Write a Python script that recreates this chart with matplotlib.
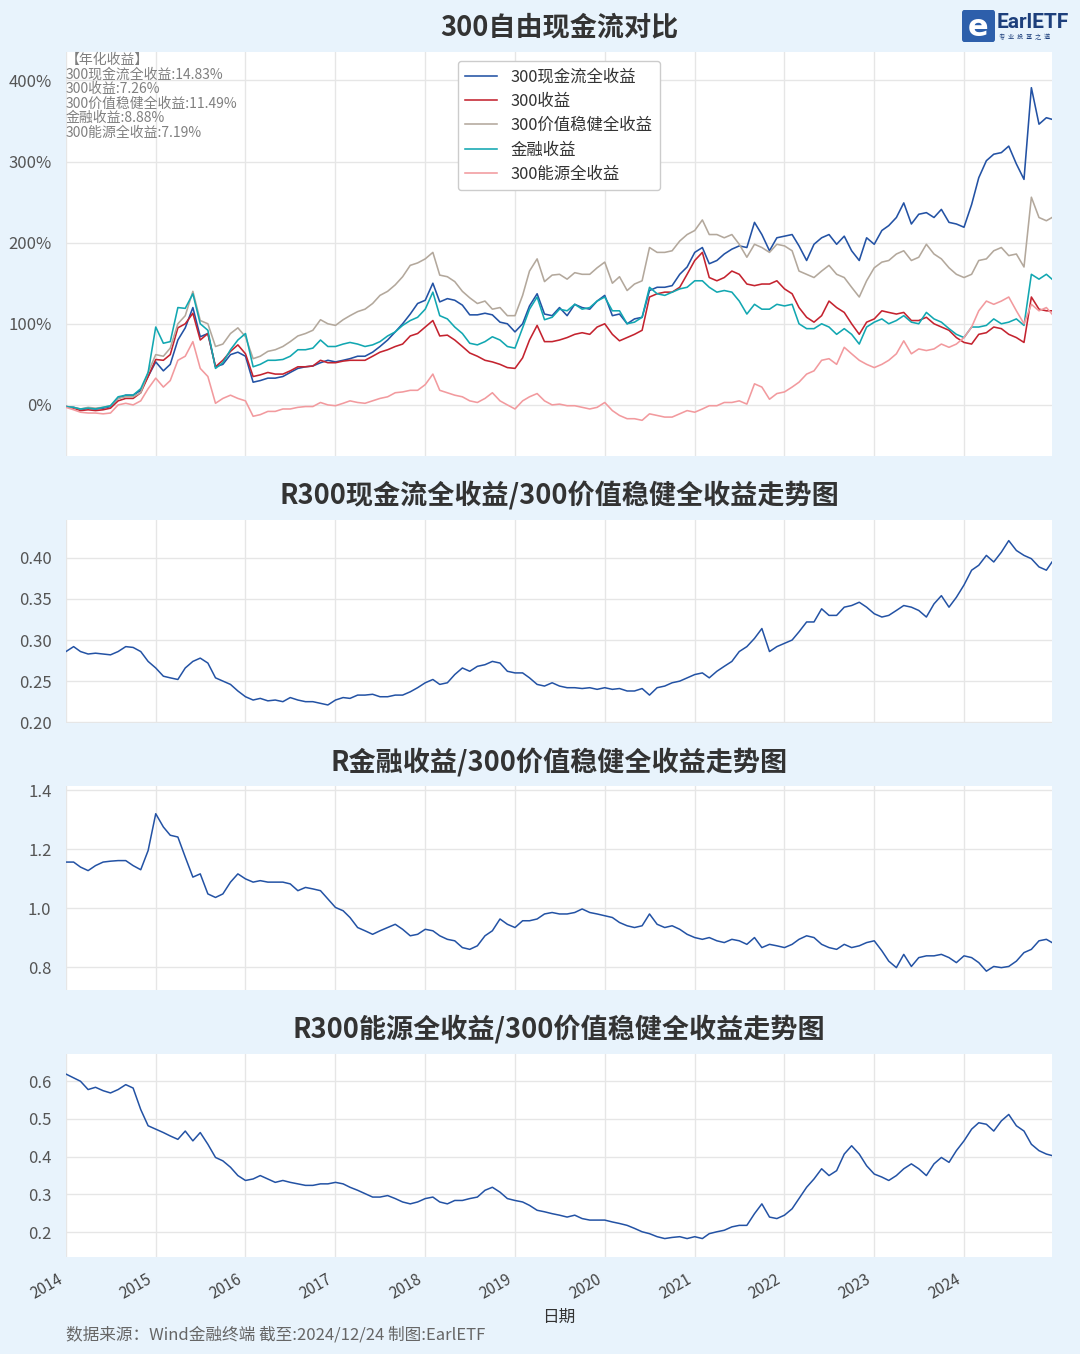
import matplotlib
matplotlib.use('Agg')
import matplotlib.pyplot as plt
import matplotlib.dates as mdates
from matplotlib.ticker import FuncFormatter, MultipleLocator
from matplotlib.patches import FancyBboxPatch
from matplotlib.transforms import ScaledTranslation
import pandas as pd

plt.rcParams['font.family'] = ['Noto Sans CJK SC', 'DejaVu Sans']

# sample dates: first of every month, plus the last trading day
dates = list(pd.date_range('2014-01-01', '2024-12-01', freq='MS')) + [pd.Timestamp('2024-12-24')]

# cumulative return, % (one row per year)
cf_ret = [
    -2, -3, -6, -4, -5, -4, -2, 8, 12, 12, 18, 35,
    53, 42, 50, 80, 95, 120, 84, 88, 47, 50, 62, 65,
    60, 28, 30, 33, 33, 35, 40, 45, 47, 48, 52, 55,
    53, 55, 57, 60, 60, 65, 72, 80, 90, 100, 112, 125,
    129, 150, 127, 131, 129, 123, 111, 111, 113, 111, 102, 100,
    90, 100, 122, 137, 112, 110, 120, 110, 124, 120, 118, 128,
    135, 110, 112, 100, 106, 108, 141, 145, 145, 147, 161, 170,
    188, 194, 174, 178, 186, 192, 196, 194, 225, 210, 190, 206,
    208, 210, 196, 178, 198, 206, 210, 198, 208, 190, 178, 206,
    198, 215, 221, 231, 249, 223, 235, 237, 231, 241, 225, 223,
    219, 247, 280, 301, 309, 311, 319, 297, 278, 391, 346, 354,
    352]
hs300_ret = [
    -2, -4, -7, -6, -7, -6, -4, 5, 8, 8, 15, 35,
    56, 55, 62, 95, 100, 113, 80, 88, 47, 55, 66, 74,
    63, 35, 37, 40, 38, 38, 42, 47, 47, 48, 55, 52,
    52, 54, 55, 55, 55, 60, 65, 68, 72, 75, 85, 88,
    96, 104, 85, 86, 80, 72, 64, 60, 55, 53, 50, 46,
    45, 58, 80, 98, 78, 78, 80, 83, 87, 89, 87, 96,
    100, 87, 79, 83, 87, 92, 133, 137, 139, 139, 145, 161,
    178, 188, 157, 153, 157, 165, 161, 149, 147, 149, 149, 153,
    143, 137, 120, 108, 102, 110, 128, 120, 114, 100, 87, 102,
    106, 116, 114, 112, 114, 104, 104, 108, 100, 96, 92, 83,
    77, 75, 87, 89, 96, 94, 87, 83, 77, 133, 118, 116,
    116]
value_ret = [
    -2, -3, -5, -3, -4, -3, -1, 8, 10, 10, 15, 40,
    62, 60, 70, 100, 110, 140, 104, 100, 72, 75, 88, 95,
    84, 57, 60, 66, 68, 72, 78, 85, 88, 92, 105, 100,
    98, 105, 110, 115, 118, 125, 135, 140, 148, 158, 172, 175,
    180, 188, 160, 158, 152, 140, 132, 125, 128, 118, 120, 110,
    110, 135, 165, 180, 152, 160, 161, 155, 163, 161, 161, 169,
    176, 150, 158, 141, 149, 153, 194, 188, 188, 190, 202, 210,
    215, 228, 210, 210, 206, 210, 198, 182, 198, 194, 188, 198,
    196, 190, 165, 161, 157, 165, 172, 161, 157, 145, 133, 153,
    169, 176, 178, 186, 190, 178, 182, 198, 186, 180, 169, 161,
    157, 161, 178, 180, 190, 194, 184, 186, 170, 256, 231, 227,
    231]
fin_ret = [
    -2, -3, -5, -4, -5, -3, -1, 10, 12, 12, 20, 40,
    96, 76, 78, 120, 119, 137, 100, 92, 45, 52, 68, 80,
    88, 47, 50, 55, 55, 56, 60, 68, 68, 70, 80, 72,
    72, 75, 77, 75, 72, 74, 78, 85, 90, 98, 104, 108,
    118, 139, 110, 106, 96, 88, 76, 74, 78, 84, 80, 72,
    70, 95, 118, 133, 105, 108, 118, 116, 124, 118, 120, 128,
    133, 116, 116, 100, 102, 108, 145, 137, 135, 139, 143, 145,
    153, 153, 145, 139, 141, 139, 128, 112, 124, 118, 118, 124,
    122, 124, 100, 94, 94, 100, 96, 87, 94, 87, 75, 96,
    102, 106, 100, 104, 110, 102, 100, 114, 106, 102, 94, 87,
    83, 96, 96, 98, 106, 100, 102, 106, 98, 161, 155, 161,
    155]
energy_ret = [
    -3, -6, -9, -10, -10, -11, -10, 0, 2, 0, 5, 20,
    33, 22, 30, 55, 60, 78, 45, 35, 2, 8, 12, 8,
    5, -14, -12, -8, -8, -5, -5, -3, -2, -2, 3, 0,
    -1, 2, 5, 3, 2, 5, 8, 10, 15, 16, 18, 18,
    25, 38, 18, 15, 12, 10, 5, 3, 8, 15, 5, 0,
    -5, 5, 10, 14, 5, 0, 1, -1, -1, -3, -5, -3,
    3, -7, -13, -17, -17, -19, -11, -13, -15, -15, -11, -7,
    -9, -5, -1, -1, 3, 3, 5, 1, 26, 22, 7, 14,
    16, 22, 28, 38, 42, 55, 57, 50, 71, 63, 55, 50,
    46, 50, 55, 63, 79, 63, 69, 67, 69, 75, 71, 75,
    83, 96, 116, 128, 124, 128, 133, 116, 100, 124, 116, 120,
    112]

# ratio series
ratio_cf = [
    0.286, 0.292, 0.286, 0.283, 0.284, 0.283, 0.282, 0.286, 0.292, 0.291, 0.286, 0.274,
    0.266, 0.256, 0.254, 0.252, 0.266, 0.274, 0.278, 0.272, 0.254, 0.250, 0.246, 0.238,
    0.231, 0.227, 0.229, 0.226, 0.227, 0.225, 0.230, 0.227, 0.225, 0.225, 0.223, 0.221,
    0.227, 0.230, 0.229, 0.233, 0.233, 0.234, 0.231, 0.231, 0.233, 0.233, 0.237, 0.242,
    0.248, 0.252, 0.246, 0.248, 0.258, 0.266, 0.262, 0.268, 0.270, 0.274, 0.272, 0.262,
    0.260, 0.260, 0.254, 0.246, 0.244, 0.248, 0.244, 0.242, 0.242, 0.241, 0.242, 0.240,
    0.242, 0.240, 0.241, 0.238, 0.238, 0.241, 0.233, 0.242, 0.244, 0.248, 0.250, 0.254,
    0.258, 0.260, 0.254, 0.262, 0.268, 0.274, 0.286, 0.292, 0.302, 0.314, 0.286, 0.292,
    0.296, 0.300, 0.310, 0.322, 0.322, 0.338, 0.330, 0.330, 0.340, 0.342, 0.346, 0.340,
    0.332, 0.328, 0.330, 0.336, 0.342, 0.340, 0.336, 0.328, 0.344, 0.354, 0.340, 0.352,
    0.367, 0.385, 0.391, 0.403, 0.395, 0.407, 0.421, 0.409, 0.403, 0.399, 0.389, 0.385,
    0.395]
ratio_fin = [
    1.156, 1.156, 1.139, 1.127, 1.144, 1.156, 1.159, 1.161, 1.161, 1.144, 1.130, 1.195,
    1.320, 1.275, 1.247, 1.241, 1.173, 1.105, 1.116, 1.048, 1.036, 1.048, 1.088, 1.116,
    1.099, 1.088, 1.093, 1.088, 1.088, 1.088, 1.082, 1.059, 1.070, 1.065, 1.059, 1.031,
    1.002, 0.991, 0.968, 0.934, 0.923, 0.911, 0.923, 0.934, 0.945, 0.928, 0.906, 0.911,
    0.928, 0.923, 0.906, 0.894, 0.889, 0.866, 0.860, 0.872, 0.906, 0.923, 0.963, 0.945,
    0.934, 0.957, 0.957, 0.963, 0.980, 0.985, 0.980, 0.980, 0.985, 0.997, 0.985, 0.980,
    0.974, 0.968, 0.951, 0.940, 0.934, 0.940, 0.980, 0.945, 0.934, 0.940, 0.928, 0.911,
    0.900, 0.894, 0.900, 0.889, 0.883, 0.894, 0.889, 0.877, 0.900, 0.866, 0.877, 0.872,
    0.866, 0.877, 0.894, 0.906, 0.900, 0.877, 0.866, 0.860, 0.877, 0.866, 0.872, 0.883,
    0.889, 0.855, 0.820, 0.798, 0.843, 0.802, 0.832, 0.838, 0.838, 0.843, 0.832, 0.815,
    0.838, 0.832, 0.815, 0.786, 0.802, 0.798, 0.802, 0.820, 0.849, 0.860, 0.889, 0.894,
    0.883]
ratio_energy = [
    0.619, 0.609, 0.600, 0.578, 0.584, 0.575, 0.569, 0.578, 0.591, 0.582, 0.525, 0.482,
    0.473, 0.464, 0.455, 0.446, 0.468, 0.442, 0.464, 0.433, 0.398, 0.389, 0.372, 0.350,
    0.337, 0.341, 0.350, 0.341, 0.332, 0.337, 0.332, 0.328, 0.324, 0.324, 0.328, 0.328,
    0.332, 0.328, 0.319, 0.311, 0.302, 0.293, 0.293, 0.297, 0.289, 0.280, 0.275, 0.280,
    0.289, 0.293, 0.280, 0.275, 0.284, 0.284, 0.289, 0.293, 0.311, 0.319, 0.306, 0.289,
    0.284, 0.280, 0.271, 0.258, 0.254, 0.249, 0.245, 0.240, 0.245, 0.236, 0.232, 0.232,
    0.232, 0.227, 0.223, 0.218, 0.210, 0.201, 0.196, 0.188, 0.183, 0.186, 0.188, 0.183,
    0.188, 0.183, 0.196, 0.201, 0.205, 0.214, 0.218, 0.218, 0.249, 0.275, 0.240, 0.236,
    0.245, 0.262, 0.289, 0.319, 0.341, 0.368, 0.350, 0.363, 0.407, 0.429, 0.407, 0.376,
    0.354, 0.346, 0.337, 0.350, 0.368, 0.381, 0.368, 0.350, 0.381, 0.398, 0.385, 0.416,
    0.442, 0.473, 0.490, 0.486, 0.468, 0.495, 0.512, 0.482, 0.468, 0.433, 0.416, 0.407,
    0.403]

series_names = ['300现金流全收益', '300收益', '300价值稳健全收益', '金融收益', '300能源全收益']
series_colors = ['#2352a4', '#c4232f', '#b3a89c', '#12a7b1', '#f29a9e']
annual = ['14.83%', '7.26%', '11.49%', '8.88%', '7.19%']

BG = '#e8f3fc'
GRID = '#e6e6e6'
LINE = '#2352a4'

fig = plt.figure(figsize=(10.8, 13.54), dpi=100)
fig.patch.set_facecolor(BG)

ax0 = fig.add_axes([0.0611, 0.6632, 0.913, 0.2984])
ax1 = fig.add_axes([0.0611, 0.4660, 0.913, 0.1499])
ax2 = fig.add_axes([0.0611, 0.2688, 0.913, 0.1507])
ax3 = fig.add_axes([0.0611, 0.0716, 0.913, 0.1499])


def style(ax):
    ax.set_facecolor('white')
    for s in ax.spines.values():
        s.set_visible(False)
    ax.grid(True, color=GRID, lw=1)
    ax.set_axisbelow(True)
    ax.xaxis.set_major_locator(mdates.YearLocator())
    ax.set_xlim(dates[0], dates[-1])
    ax.tick_params(length=0, labelsize=12, labelcolor='#555555', pad=10.5)


# top chart: cumulative returns
for vals, name, c in zip([cf_ret, hs300_ret, value_ret, fin_ret, energy_ret], series_names, series_colors):
    ax0.plot(dates, vals, color=c, lw=1.15, label=name)
style(ax0)
ax0.set_ylim(-63, 435)
ax0.yaxis.set_major_locator(MultipleLocator(100))
ax0.yaxis.set_major_formatter(FuncFormatter(lambda v, p: '%d%%' % v))
ax0.tick_params(labelbottom=False)
leg = ax0.legend(loc='upper left', bbox_to_anchor=(0.3976, 0.9777), borderaxespad=0,
                 fontsize=11.8, frameon=True, fancybox=True, edgecolor='#cccccc', framealpha=1,
                 handlelength=1.95, labelspacing=0.45, borderpad=0.45, handletextpad=0.8)
for t in leg.get_texts():
    t.set_color('#333333')

txt = '【年化收益】\n' + '\n'.join('%s:%s' % (n, a) for n, a in zip(series_names, annual))
ax0.text(0.0, 0.998, txt, transform=ax0.transAxes, ha='left', va='top',
         fontsize=10, color='#808080', linespacing=1.05)

# ratio charts
ax1.plot(dates, ratio_cf, color=LINE, lw=1.1)
style(ax1)
ax1.set_ylim(0.199, 0.446)
ax1.yaxis.set_major_locator(MultipleLocator(0.05))
ax1.yaxis.set_major_formatter(FuncFormatter(lambda v, p: '%.2f' % v))
ax1.tick_params(labelbottom=False)

ax2.plot(dates, ratio_fin, color=LINE, lw=1.1)
style(ax2)
ax2.set_ylim(0.722, 1.414)
ax2.yaxis.set_major_locator(MultipleLocator(0.2))
ax2.yaxis.set_major_formatter(FuncFormatter(lambda v, p: '%.1f' % v))
ax2.tick_params(labelbottom=False)

ax3.plot(dates, ratio_energy, color=LINE, lw=1.1)
style(ax3)
ax3.set_ylim(0.134, 0.672)
ax3.yaxis.set_major_locator(MultipleLocator(0.1))
ax3.yaxis.set_major_formatter(FuncFormatter(lambda v, p: '%.1f' % v))
ax3.xaxis.set_major_formatter(mdates.DateFormatter('%Y'))
ax3.tick_params(axis='x', labelsize=11, labelcolor='#444444', pad=10)
shift = ScaledTranslation(-9 / 100, 0, fig.dpi_scale_trans)
for lbl in ax3.get_xticklabels():
    lbl.set_rotation(30)
    lbl.set_ha('right')
    lbl.set_rotation_mode('anchor')
    lbl.set_transform(lbl.get_transform() + shift)

# titles
cx = 0.5176
fig.text(cx, 1 - 27 / 1354, '300自由现金流对比', ha='center', va='center',
         fontsize=19.5, fontweight='bold', color='#333333')
for y, t in [(495, 'R300现金流全收益/300价值稳健全收益走势图'),
             (762, 'R金融收益/300价值稳健全收益走势图'),
             (1029, 'R300能源全收益/300价值稳健全收益走势图')]:
    fig.text(cx, 1 - y / 1354, t, ha='center', va='center',
             fontsize=19.5, fontweight='bold', color='#333333')

fig.text(cx, 1 - 1317 / 1354, '日期', ha='center', va='center', fontsize=12, color='#333333')
fig.text(66 / 1080, 1 - 1335 / 1354, '数据来源：Wind金融终端 截至:2024/12/24 制图:EarlETF',
         ha='left', va='center', fontsize=12, color='#666666')

# logo
fig.patches.append(FancyBboxPatch((962 / 1080, 1 - 42 / 1354), 33 / 1080, 32 / 1354,
                                  boxstyle='round,pad=0,rounding_size=0.002',
                                  transform=fig.transFigure, facecolor='#2d5fab', edgecolor='none'))
fig.text(978.5 / 1080, 1 - 27 / 1354, 'e', ha='center', va='center', fontsize=22,
         fontweight='bold', color='white', family='DejaVu Sans')
fig.text(997 / 1080, 1 - 22 / 1354, 'EarlETF', ha='left', va='center', fontsize=15,
         fontweight='bold', color='#1d3f7c', family='Roboto')
fig.text(999 / 1080, 1 - 37 / 1354, '专  业  投  基  之  道', ha='left', va='center',
         fontsize=4.5, color='#1d3f7c')

fig.savefig('out.png', dpi=100, facecolor=BG)
